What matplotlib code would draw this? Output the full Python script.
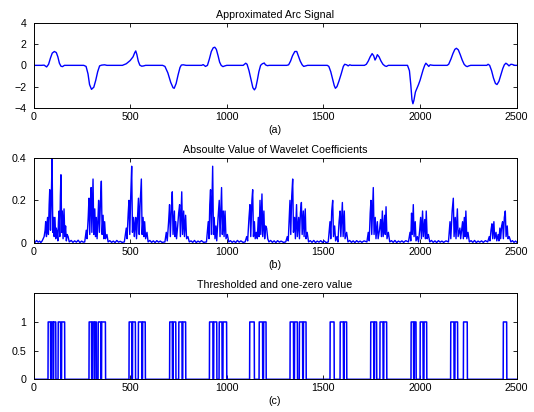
import matplotlib
matplotlib.use("Agg")
import matplotlib.pyplot as plt
import numpy as np

plt.rcParams['font.family'] = ['Liberation Sans', 'DejaVu Sans']

# ---------------- data ----------------
titles = ["Approximated Arc Signal", "Absoulte Value of Wavelet Coefficients",
          "Thresholded and one-zero value"]
xlabels = ["(a)", "(b)", "(c)"]
x_ticks = [0, 500, 1000, 1500, 2000, 2500]
arc_yticks = [-4, -2, 0, 2, 4]
coef_yticks = [0, 0.2, 0.4]
thr_yticks = [0, 0.5, 1]

# approximated arc signal: (sample, value) key points
arc_pts = [
    (0, 0), (40, 0), (55, 0.02), (68, -0.15), (78, 0.1), (88, 0.7), (97, 1.15), (108, 1.3),
    (118, 1.2), (126, 0.8), (134, 0.2), (142, -0.08), (150, -0.12), (160, 0),
    (260, 0), (272, -0.1), (282, -0.8), (290, -1.8), (300, -2.25), (312, -2.05), (322, -1.4),
    (332, -0.6), (342, -0.05), (352, 0.02), (368, 0.05), (380, 0),
    (460, 0), (480, 0.15), (500, 0.45), (515, 0.8), (524, 1.2), (529, 1.35), (535, 1.0),
    (542, 0.4), (550, 0.02), (560, -0.08), (570, -0.05), (580, 0),
    (668, 0), (680, -0.1), (695, -0.7), (710, -1.6), (722, -2.1), (728, -2.15), (738, -1.7),
    (748, -0.9), (758, -0.2), (765, 0.03), (775, 0.05), (790, 0),
    (870, 0), (878, 0.07), (890, -0.1), (900, 0.0), (910, 0.6), (920, 1.3), (930, 1.65),
    (938, 1.7), (946, 1.5), (955, 0.9), (963, 0.3), (971, 0.0), (980, -0.12), (990, -0.05), (1000, 0),
    (1085, 0), (1098, 0.2), (1105, 0.1), (1115, -0.5), (1125, -1.3), (1135, -2.1), (1143, -2.3),
    (1150, -2.1), (1158, -1.4), (1166, -0.6), (1175, 0.0), (1184, 0.15), (1194, 0.22),
    (1200, 0.05), (1210, -0.03), (1220, 0),
    (1310, 0), (1320, 0.05), (1330, 0.4), (1340, 0.9), (1352, 1.3), (1362, 1.3), (1370, 0.9),
    (1380, 0.4), (1390, 0.05), (1398, -0.1), (1408, -0.05), (1418, 0),
    (1520, 0), (1528, -0.1), (1538, -0.6), (1548, -1.3), (1556, -1.9), (1562, -2.15),
    (1570, -2.0), (1580, -1.5), (1592, -0.8), (1603, -0.1), (1610, 0.1), (1620, 0.05),
    (1628, -0.05), (1636, 0.05), (1645, 0),
    (1712, 0), (1722, 0.1), (1732, 0.4), (1742, 0.8), (1752, 1.1), (1760, 0.9), (1767, 0.5),
    (1773, 0.7), (1779, 1.0), (1788, 0.8), (1798, 0.4), (1808, 0.1), (1818, -0.05),
    (1826, -0.1), (1836, 0),
    (1935, 0), (1945, -0.5), (1952, -1.8), (1958, -3.2), (1963, -3.6), (1968, -3.3),
    (1976, -2.5), (1984, -2.15), (1992, -1.8), (2000, -1.4), (2008, -0.9), (2016, -0.4),
    (2024, 0.0), (2030, 0.2), (2038, 0.05), (2045, -0.1), (2052, 0.05), (2060, 0.02), (2070, 0),
    (2140, 0), (2148, 0.1), (2160, 0.6), (2170, 1.1), (2180, 1.5), (2188, 1.6), (2198, 1.45),
    (2208, 1.0), (2218, 0.5), (2228, 0.1), (2236, -0.05), (2244, -0.12), (2252, -0.05), (2262, 0),
    (2345, 0), (2352, 0.1), (2360, 0.0), (2370, -0.5), (2380, -1.2), (2390, -1.7), (2398, -1.8),
    (2408, -1.5), (2418, -0.9), (2428, -0.3), (2436, 0.05), (2444, 0.2), (2452, 0.1),
    (2460, -0.05), (2470, 0.1), (2478, 0.08), (2490, 0), (2500, 0),
]
arc_x = [p[0] for p in arc_pts]
arc_y = [p[1] for p in arc_pts]

# absolute wavelet coefficients: flat list sample, value, sample, value ...
coef_flat = [
    0, 0.008, 8, 0.003, 16, 0.012, 24, 0.004, 32, 0.009, 38, 0.002,
    45, 0.01, 55, 0.03, 60, 0.06, 63, 0.1, 67, 0.03, 70, 0.09, 73, 0.12, 77, 0.04, 81, 0.18,
    84, 0.25, 88, 0.06, 92, 0.2, 96, 0.4, 100, 0.05, 104, 0.12, 107, 0.03, 111, 0.12, 115, 0.02,
    118, 0.07, 122, 0.05, 126, 0.01, 129, 0.1, 132, 0.15, 136, 0.03, 139, 0.22, 142, 0.32,
    146, 0.05, 149, 0.15, 153, 0.02, 158, 0.16, 162, 0.03, 166, 0.08, 170, 0.01, 174, 0.04,
    179, 0.03, 185, 0.005,
    195, 0.012, 204, 0.003, 213, 0.01, 222, 0.004, 231, 0.013, 240, 0.002, 249, 0.009, 257, 0.004,
    265, 0.005, 273, 0.06, 277, 0.02, 283, 0.12, 287, 0.21, 291, 0.04, 295, 0.2, 298, 0.26,
    302, 0.05, 305, 0.18, 308, 0.3, 312, 0.04, 317, 0.16, 321, 0.03, 325, 0.12, 329, 0.02,
    333, 0.1, 337, 0.2, 341, 0.05, 346, 0.18, 351, 0.29, 355, 0.04, 360, 0.13, 364, 0.02,
    368, 0.1, 373, 0.02, 380, 0.04, 386, 0.005,
    395, 0.011, 404, 0.003, 413, 0.009, 422, 0.002, 431, 0.012, 440, 0.004, 449, 0.008, 458, 0.003,
    470, 0.005, 480, 0.07, 484, 0.02, 490, 0.14, 494, 0.2, 498, 0.04, 503, 0.22, 508, 0.36,
    512, 0.05, 518, 0.12, 522, 0.03, 525, 0.08, 529, 0.12, 533, 0.02, 539, 0.14, 543, 0.21,
    547, 0.04, 551, 0.17, 558, 0.3, 562, 0.04, 567, 0.12, 571, 0.03, 575, 0.1, 580, 0.02,
    587, 0.05, 593, 0.005,
    602, 0.012, 611, 0.003, 620, 0.01, 629, 0.002, 638, 0.011, 647, 0.004, 656, 0.009, 665, 0.003,
    680, 0.005, 687, 0.05, 692, 0.01, 699, 0.1, 704, 0.18, 708, 0.03, 713, 0.15, 718, 0.24,
    722, 0.04, 729, 0.15, 732, 0.03, 736, 0.1, 740, 0.02, 746, 0.08, 751, 0.14, 756, 0.18,
    760, 0.03, 767, 0.24, 771, 0.04, 777, 0.15, 781, 0.03, 787, 0.13, 792, 0.02, 799, 0.03,
    806, 0.005,
    815, 0.01, 824, 0.003, 833, 0.012, 842, 0.002, 851, 0.009, 860, 0.004, 869, 0.011, 880, 0.003,
    895, 0.005, 904, 0.1, 908, 0.02, 912, 0.18, 916, 0.25, 920, 0.04, 927, 0.36, 931, 0.04,
    935, 0.12, 939, 0.02, 944, 0.08, 948, 0.01, 955, 0.12, 961, 0.2, 965, 0.03, 973, 0.26,
    977, 0.04, 982, 0.15, 986, 0.03, 991, 0.15, 996, 0.02, 1003, 0.04, 1010, 0.005,
    1019, 0.011, 1028, 0.003, 1037, 0.009, 1046, 0.002, 1055, 0.012, 1064, 0.004, 1073, 0.01, 1084, 0.003,
    1095, 0.005, 1103, 0.03, 1108, 0.01, 1115, 0.12, 1120, 0.18, 1124, 0.03, 1130, 0.2,
    1134, 0.25, 1138, 0.03, 1143, 0.1, 1147, 0.02, 1153, 0.05, 1158, 0.02, 1163, 0.12,
    1167, 0.03, 1172, 0.2, 1176, 0.04, 1182, 0.23, 1186, 0.03, 1192, 0.15, 1196, 0.02,
    1201, 0.08, 1206, 0.07, 1212, 0.02, 1218, 0.005,
    1227, 0.012, 1236, 0.003, 1245, 0.01, 1254, 0.002, 1263, 0.011, 1272, 0.004, 1281, 0.009, 1293, 0.003,
    1305, 0.005, 1313, 0.03, 1318, 0.01, 1323, 0.12, 1327, 0.2, 1331, 0.04, 1336, 0.22,
    1341, 0.3, 1345, 0.05, 1351, 0.12, 1355, 0.02, 1361, 0.18, 1365, 0.03, 1372, 0.12,
    1376, 0.02, 1381, 0.14, 1386, 0.19, 1390, 0.04, 1396, 0.15, 1400, 0.03, 1406, 0.16,
    1410, 0.02, 1416, 0.05, 1423, 0.005,
    1432, 0.011, 1441, 0.003, 1450, 0.012, 1459, 0.002, 1468, 0.009, 1477, 0.004, 1486, 0.011,
    1495, 0.003, 1504, 0.01, 1514, 0.002,
    1525, 0.005, 1534, 0.1, 1538, 0.02, 1543, 0.15, 1548, 0.2, 1552, 0.03, 1558, 0.08,
    1563, 0.01, 1570, 0.03, 1575, 0.005, 1581, 0.1, 1586, 0.15, 1590, 0.03, 1598, 0.19,
    1602, 0.03, 1608, 0.15, 1612, 0.02, 1620, 0.05, 1627, 0.005,
    1636, 0.012, 1645, 0.003, 1654, 0.01, 1663, 0.002, 1672, 0.011, 1681, 0.004, 1690, 0.009,
    1699, 0.003, 1710, 0.01,
    1725, 0.005, 1732, 0.05, 1737, 0.01, 1742, 0.14, 1746, 0.2, 1750, 0.04, 1758, 0.26,
    1762, 0.04, 1768, 0.12, 1772, 0.02, 1779, 0.1, 1783, 0.02, 1790, 0.06, 1796, 0.11,
    1800, 0.03, 1805, 0.15, 1809, 0.03, 1817, 0.13, 1820, 0.04, 1824, 0.17, 1829, 0.02,
    1836, 0.05, 1843, 0.005,
    1852, 0.011, 1861, 0.003, 1870, 0.012, 1879, 0.002, 1888, 0.009, 1897, 0.004, 1906, 0.01,
    1915, 0.003, 1926, 0.011,
    1940, 0.005, 1948, 0.05, 1952, 0.01, 1956, 0.14, 1960, 0.04, 1965, 0.18, 1969, 0.03,
    1975, 0.1, 1979, 0.01, 1986, 0.03, 1992, 0.005, 1998, 0.06, 2003, 0.12, 2007, 0.02,
    2013, 0.15, 2017, 0.03, 2024, 0.11, 2028, 0.02, 2032, 0.15, 2037, 0.02, 2043, 0.04,
    2050, 0.005,
    2059, 0.012, 2068, 0.003, 2077, 0.01, 2086, 0.002, 2095, 0.011, 2104, 0.004, 2113, 0.009,
    2122, 0.003, 2134, 0.01,
    2147, 0.005, 2155, 0.1, 2159, 0.02, 2166, 0.15, 2172, 0.21, 2176, 0.03, 2182, 0.12,
    2186, 0.02, 2193, 0.16, 2197, 0.03, 2206, 0.07, 2210, 0.02, 2215, 0.06, 2220, 0.1,
    2224, 0.02, 2229, 0.12, 2233, 0.03, 2237, 0.15, 2242, 0.02, 2248, 0.05, 2255, 0.005,
    2264, 0.011, 2273, 0.003, 2282, 0.012, 2291, 0.002, 2300, 0.009, 2309, 0.004, 2318, 0.01,
    2327, 0.003, 2338, 0.011,
    2350, 0.005, 2358, 0.03, 2362, 0.01, 2367, 0.06, 2372, 0.09, 2376, 0.02, 2382, 0.1,
    2386, 0.02, 2393, 0.05, 2397, 0.01, 2404, 0.04, 2408, 0.01, 2413, 0.07, 2417, 0.02,
    2422, 0.08, 2427, 0.1, 2431, 0.02, 2436, 0.12, 2441, 0.15, 2445, 0.03, 2451, 0.08,
    2455, 0.02, 2461, 0.03, 2470, 0.005,
    2478, 0.011, 2486, 0.003, 2494, 0.009, 2500, 0.004,
]
coef_x = coef_flat[0::2]
coef_y = coef_flat[1::2]

# thresholded one-zero signal: intervals where value is 1
thr_on = [
    (75, 88), (92, 101), (104, 115), (127, 140), (145, 161),
    (287, 300), (304, 313), (317, 325), (334, 348), (352, 372),
    (494, 508), (512, 527), (542, 560), (564, 578),
    (704, 718), (722, 736), (751, 768), (772, 787),
    (910, 928), (932, 948), (960, 975), (980, 999),
    (1118, 1142), (1167, 1185), (1190, 1203),
    (1327, 1345), (1350, 1365), (1375, 1392), (1396, 1410),
    (1534, 1555), (1586, 1603), (1607, 1620),
    (1744, 1760), (1764, 1775), (1792, 1808), (1812, 1827),
    (1953, 1966), (1970, 1979), (2000, 2015), (2020, 2034),
    (2158, 2175), (2180, 2194), (2224, 2244),
    (2430, 2448),
]
thr_x = [0]
thr_y = [0]
for s, e in thr_on:
    thr_x += [s, s + 1, e, e + 1]
    thr_y += [0, 1, 1, 0]
thr_x.append(2500)
thr_y.append(0)

# ---------------- plotting ----------------
W, H = 534, 412
fig = plt.figure(figsize=(W / 100, H / 100), dpi=100)
left = 33.5 / W
width = (516.7 - 33.5) / W
boxes = [(22.7, 108.0), (157.7, 243.0), (293.3, 379.3)]
axes = []
for top, bot in boxes:
    ax = fig.add_axes([left, 1 - bot / H, width, (bot - top) / H])
    axes.append(ax)

blue = '#0000ff'
fs = 7.7

axes[0].plot(arc_x, arc_y, color=blue, lw=1.0)
axes[0].set_ylim(-4, 4)
axes[0].set_yticks(arc_yticks)

axes[1].plot(coef_x, coef_y, color=blue, lw=1.0)
axes[1].set_ylim(0, 0.4)
axes[1].set_yticks(coef_yticks)
axes[1].set_yticklabels(['0', '0.2', '0.4'])

axes[2].plot(thr_x, thr_y, color=blue, lw=1.1)
axes[2].set_ylim(0, 1.5)
axes[2].set_yticks(thr_yticks)
axes[2].set_yticklabels(['0', '0.5', '1'])

for ax, t, xl in zip(axes, titles, xlabels):
    ax.set_xlim(0, 2500)
    ax.set_xticks(x_ticks)
    ax.set_title(t, fontsize=fs, pad=3.5)
    ax.set_xlabel(xl, fontsize=fs, labelpad=2)
    ax.tick_params(direction='in', top=True, right=True, labelsize=fs,
                   length=3, width=0.6)
    ax.tick_params(axis='x', pad=3)
    ax.tick_params(axis='y', pad=5)
    for sp in ax.spines.values():
        sp.set_linewidth(0.7)

fig.savefig('out.png', dpi=100)
